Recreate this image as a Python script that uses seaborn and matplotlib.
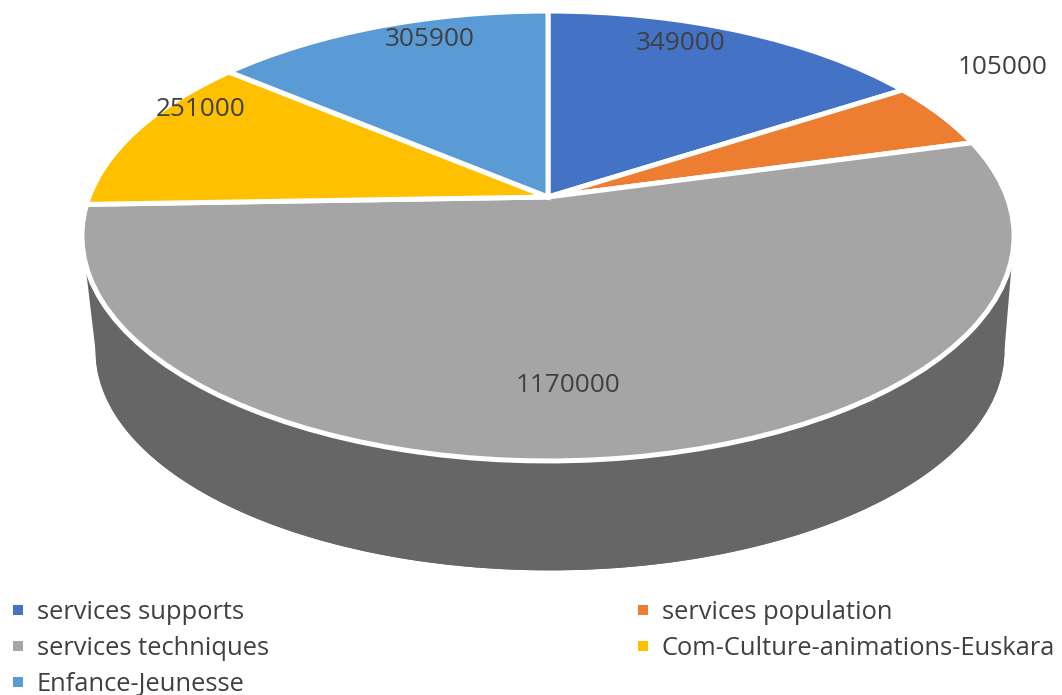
import numpy as np
import seaborn as sns
import matplotlib
matplotlib.use("Agg")
import matplotlib.pyplot as plt
from matplotlib.lines import Line2D
from matplotlib.patches import Polygon
from matplotlib.transforms import Transform

# Budget by service
categories = ["services supports", "services population", "services techniques",
              "Com-Culture-animations-Euskara", "Enfance-Jeunesse"]
values = [349000, 105000, 1170000, 251000, 305900]
colors = ["#4472C4", "#ED7D31", "#A5A5A5", "#FFC000", "#5B9BD5"]
value_labels = ["349000", "105000", "1170000", "251000", "305900"]
label_positions = [(681, 43), (1003, 67), (568, 385), (201, 110), (430, 40)]

WALL = "#666666"
TEXT = "#404040"
WIDTH, HEIGHT = 1062, 695


class TiltedDisc(Transform):
    """Projects the unit disc onto the canvas as a plane seen in perspective."""
    input_dims = output_dims = 2

    def __init__(self, cx, cy, ax_x, ax_y, tilt):
        super().__init__()
        self.cx, self.cy, self.ax_x, self.ax_y, self.tilt = cx, cy, ax_x, ax_y, tilt

    def transform_non_affine(self, points):
        u, v = points[:, 0], points[:, 1]
        w = 1 + self.tilt * v
        return np.column_stack([self.cx + self.ax_x * u / w,
                                self.cy - self.ax_y * v / w])


sns.set_theme(style="white")
plt.rcParams["font.family"] = ["Open Sans", "DejaVu Sans"]

fig = plt.figure(figsize=(WIDTH / 100, HEIGHT / 100), dpi=100, facecolor="white")
ax = fig.add_axes([0, 0, 1, 1])

tilt = 0.1733
top = TiltedDisc(548, 197, 459, 218.2, tilt)
base = TiltedDisc(550, 197 + 116, 459 * 0.975, 218.2 * 0.975, tilt)

# Base disc and the side wall joining it to the top face
base_wedges, _ = ax.pie(values, colors=[WALL] * len(values), startangle=90,
                        counterclock=False, wedgeprops=dict(linewidth=0))
for w in base_wedges:
    w.set_transform(base + ax.transData)

theta = np.linspace(np.pi + np.arcsin(tilt), 2 * np.pi - np.arcsin(tilt), 200)
rim = np.column_stack([np.cos(theta), np.sin(theta)])
wall = np.vstack([top.transform(rim), base.transform(rim)[::-1]])
ax.add_patch(Polygon(wall, closed=True, facecolor=WALL, edgecolor="none"))

# Top face
top_wedges, _ = ax.pie(values, colors=colors, startangle=90, counterclock=False,
                       wedgeprops=dict(edgecolor="white", linewidth=3.6))
for w in top_wedges:
    w.set_transform(top + ax.transData)

ax.set_aspect("auto")
ax.set_xlim(0, WIDTH)
ax.set_ylim(HEIGHT, 0)
ax.axis("off")

for text, (x, y) in zip(value_labels, label_positions):
    ax.text(x, y, text, ha="center", va="center", fontsize=18.8, color=TEXT)

# Legend, filled column by column so it reads row by row
order = [0, 2, 4, 1, 3]
handles = [Line2D([], [], linestyle="none", marker="s", markersize=6.5,
                  markerfacecolor=colors[i], markeredgewidth=0, label=categories[i])
           for i in order]
leg = fig.legend(handles=handles, ncol=2, loc="upper left",
                 bbox_to_anchor=(8 / WIDTH, 1 - 600 / HEIGHT), frameon=False,
                 fontsize=18.4, labelcolor=TEXT, labelspacing=0.43,
                 handlelength=0.8, handletextpad=0.32, columnspacing=14.25,
                 borderpad=0, borderaxespad=0)

fig.savefig("out.png", dpi=100)
